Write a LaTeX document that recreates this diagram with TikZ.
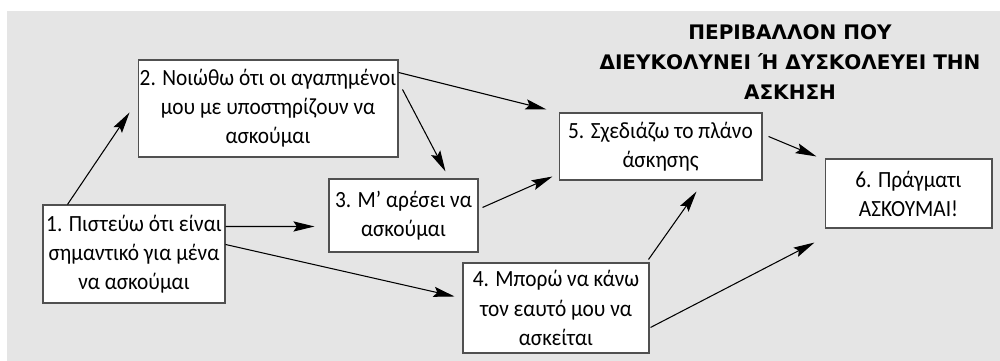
\documentclass[tikz,border=0pt]{standalone}
\usepackage{fontspec}
\setmainfont[FakeStretch=0.92]{Carlito}
\newfontfamily\titlefont{DejaVu Sans}
\usetikzlibrary{arrows.meta,calc}
\definecolor{bggray}{HTML}{E5E5E5}
\definecolor{boxborder}{HTML}{505050}
\begin{document}
\begin{tikzpicture}[x=0.02cm,y=-0.02cm,
  box/.style={draw=boxborder, fill=white, line width=0.6pt, inner sep=0pt, align=center,
              font=\fontsize{13.2}{16.6}\selectfont},
  arr/.style={-{Stealth[length=12pt,width=5.8pt,inset=2pt]}, line width=0.6pt, black},
  title/.style={align=center, font=\titlefont\bfseries\fontsize{11.4}{17.3}\selectfont}]
\useasboundingbox (0,0) rectangle (1000,361);
\fill[bggray] (7,11) rectangle (1000,361);

\node[box, minimum width=3.64cm, minimum height=1.96cm] (b1) at (134,254)
  {1. Πιστεύω ότι είναι\\σημαντικό για μένα\\να ασκούμαι};
\node[box, minimum width=5.2cm, minimum height=1.94cm] (b2) at (268,108.5)
  {2. Νοιώθω ότι οι αγαπημένοι\\μου με υποστηρίζουν να\\ασκούμαι};
\node[box, minimum width=2.98cm, minimum height=1.46cm] (b3) at (403.5,215.5)
  {3. Μ’ αρέσει να\\ασκούμαι};
\node[box, minimum width=3.72cm, minimum height=1.8cm] (b4) at (556,308)
  {4. Μπορώ να κάνω\\τον εαυτό μου να\\ασκείται};
\node[box, minimum width=4.06cm, minimum height=1.34cm] (b5) at (660.5,146.5)
  {5. Σχεδιάζω το πλάνο\\άσκησης};
\node[box, minimum width=3.34cm, minimum height=1.38cm] (b6) at (908.5,193.5)
  {6. Πράγματι\\ΑΣΚΟΥΜΑΙ!};

\node[title] (t) at (790,62) {ΠΕΡΙΒΑΛΛΟΝ ΠΟΥ\\ΔΙΕΥΚΟΛΥΝΕΙ Ή ΔΥΣΚΟΛΕΥΕΙ ΤΗΝ\\ΑΣΚΗΣΗ};

\draw[arr] ($(b1.north west)+(25,0)$) -- ($(b2.north west)+(-8,53)$);
\draw[arr] ($(b2.north east)+(0,13)$) -- ($(b5.north west)+(-12,-3)$);
\draw[arr] ($(b2.north east)+(4,30)$) -- ($(b3.north west)+(117,-7)$);
\draw[arr] ($(b1.north east)+(0,22)$) -- ($(b3.north west)+(-14,48)$);
\draw[arr] ($(b1.north east)+(0,40)$) -- ($(b4.north west)+(-8,34)$);
\draw[arr] ($(b3.north east)+(4,29)$) -- ($(b5.south west)+(-6,-4)$);
\draw[arr] ($(b4.north east)+(-1,-3)$) -- ($(b5.south east)+(-66,11)$);
\draw[arr] ($(b4.north east)+(1,65)$) -- ($(b6.south west)+(-10,14)$);
\draw[arr] ($(b5.north east)+(6,24)$) -- ($(b6.north west)+(-8,-2)$);
\end{tikzpicture}
\end{document}
